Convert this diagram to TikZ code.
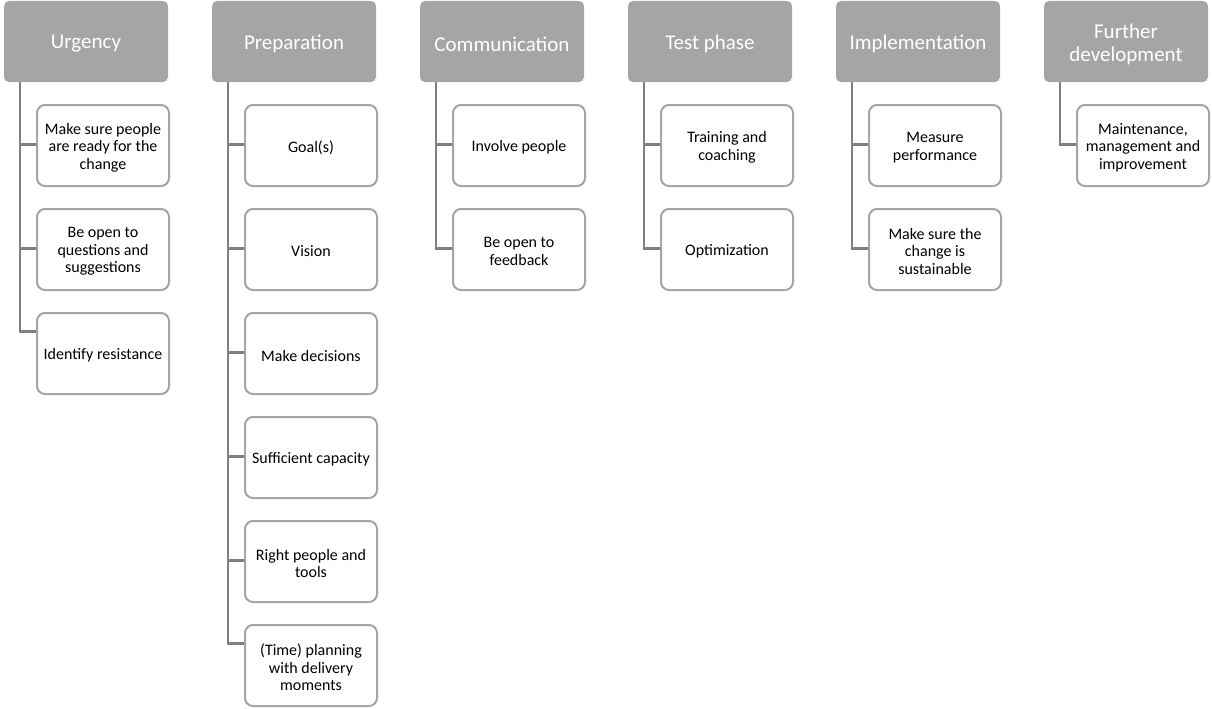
\documentclass[tikz,border=0pt]{standalone}
\usepackage{fontspec}
\setmainfont{Carlito}
\begin{document}
\begin{tikzpicture}[x=1pt,y=-1pt,
  headbox/.style={rectangle, rounded corners=5pt, fill=headgray, draw=none,
    minimum width=164pt, minimum height=81pt, inner sep=0pt},
  headtext/.style={align=center, text=white, inner sep=0pt,
    font=\fontsize{21}{23}\selectfont, yshift=-2.5pt},
  itembox/.style={rectangle, rounded corners=8pt, fill=white, draw=boxgray, line width=2pt,
    minimum width=132pt, minimum height=81pt, inner sep=0pt},
  itemtext/.style={align=center, text=black, inner sep=0pt,
    font=\fontsize{16}{17.5}\selectfont, yshift=-2pt},
  conn/.style={draw=linegray, line width=2.6pt}]
\definecolor{headgray}{HTML}{A5A5A5}
\definecolor{boxgray}{HTML}{A5A5A5}
\definecolor{linegray}{HTML}{7F7F7F}
\useasboundingbox (0,0) rectangle (1212,709);

% column headers
\node[headbox, label={[headtext]center:Urgency}] (h1) at (86,41.5) {};
\node[headbox, label={[headtext]center:Preparation}] (h2) at (294,41.5) {};
\node[headbox, label={[headtext]center:Communication}] (h3) at (502,41.5) {};
\node[headbox, label={[headtext]center:Test phase}] (h4) at (710,41.5) {};
\node[headbox, label={[headtext]center:Implementation}] (h5) at (918,41.5) {};
\node[headbox, label={[headtext]center:{Further\\development}}] (h6) at (1126,41.5) {};

% connector spines (drawn before the boxes)
\foreach \h in {h1,h2,h3,h4,h5,h6}{
  \coordinate (\h top) at ([xshift=16pt]\h.south west);
}
\draw[conn] (h1top) -- ++(0,249.5) -- ++(16,0);
\draw[conn] (h1top) ++(0,62.5) -- ++(16,0);
\draw[conn] (h1top) ++(0,166.5) -- ++(16,0);
\draw[conn] (h2top) -- ++(0,561.5) -- ++(16,0);
\foreach \k in {62.5,166.5,270.5,374.5,478.5}{
  \draw[conn] (h2top) ++(0,\k) -- ++(16,0);
}
\draw[conn] (h3top) -- ++(0,166.5) -- ++(16,0);
\draw[conn] (h3top) ++(0,62.5) -- ++(16,0);
\draw[conn] (h4top) -- ++(0,166.5) -- ++(16,0);
\draw[conn] (h4top) ++(0,62.5) -- ++(16,0);
\draw[conn] (h5top) -- ++(0,166.5) -- ++(16,0);
\draw[conn] (h5top) ++(0,62.5) -- ++(16,0);
\draw[conn] (h6top) -- ++(0,62.5) -- ++(16,0);

% Urgency
\node[itembox, label={[itemtext]center:{Make sure people\\are ready for the\\change}}] (u1) at (103,145.5) {};
\node[itembox, label={[itemtext]center:{Be open to\\questions and\\suggestions}}] (u2) at (103,249.5) {};
\node[itembox, label={[itemtext]center:Identify resistance}] (u3) at (103,353.5) {};
% Preparation
\node[itembox, label={[itemtext]center:Goal(s)}] (p1) at (311,145.5) {};
\node[itembox, label={[itemtext]center:Vision}] (p2) at (311,249.5) {};
\node[itembox, label={[itemtext]center:Make decisions}] (p3) at (311,353.5) {};
\node[itembox, label={[itemtext]center:Sufficient capacity}] (p4) at (311,457.5) {};
\node[itembox, label={[itemtext]center:{Right people and\\tools}}] (p5) at (311,561.5) {};
\node[itembox, label={[itemtext]center:{(Time) planning\\with delivery\\moments}}] (p6) at (311,665.5) {};
% Communication
\node[itembox, label={[itemtext]center:Involve people}] (c1) at (519,145.5) {};
\node[itembox, label={[itemtext]center:{Be open to\\feedback}}] (c2) at (519,249.5) {};
% Test phase
\node[itembox, label={[itemtext]center:{Training and\\coaching}}] (t1) at (727,145.5) {};
\node[itembox, label={[itemtext]center:Optimization}] (t2) at (727,249.5) {};
% Implementation
\node[itembox, label={[itemtext]center:{Measure\\performance}}] (i1) at (935,145.5) {};
\node[itembox, label={[itemtext]center:{Make sure the\\change is\\sustainable}}] (i2) at (935,249.5) {};
% Further development
\node[itembox, label={[itemtext]center:{Maintenance,\\management and\\improvement}}] (f1) at (1143,145.5) {};
\end{tikzpicture}
\end{document}
